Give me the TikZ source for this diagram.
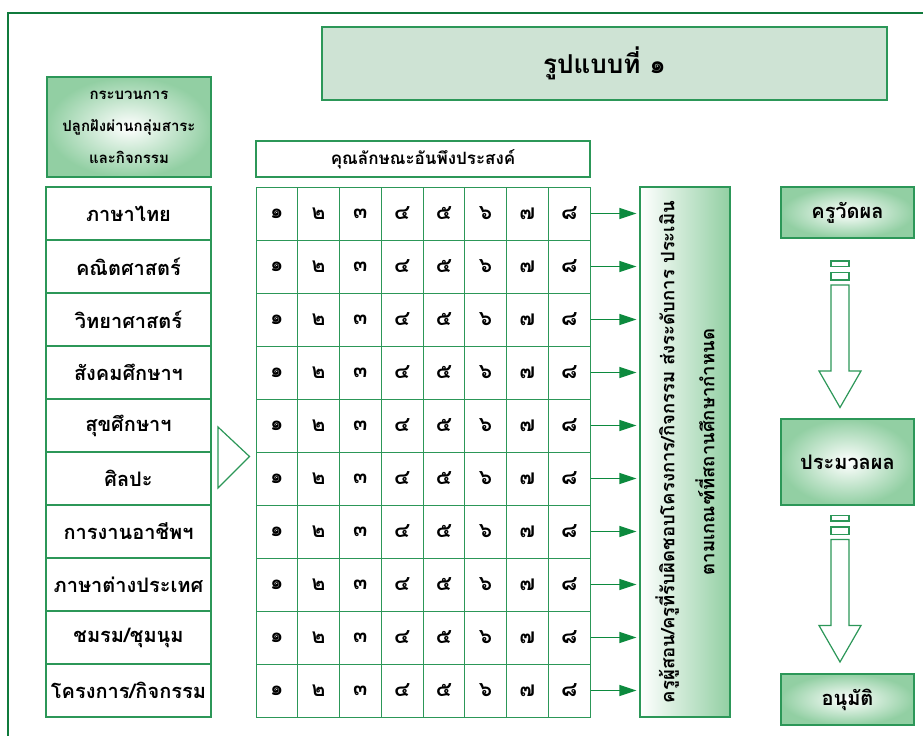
\documentclass[tikz,border=0pt]{standalone}
\usepackage{fontspec}
\setmainfont[Script=Thai]{Loma}
\usetikzlibrary{arrows.meta,calc}

\definecolor{framegreen}{HTML}{107A3C}
\definecolor{gline}{HTML}{2C9758}
\definecolor{titlefill}{HTML}{CEE3D4}
\definecolor{shadegreen}{HTML}{92CFA3}
\definecolor{arrowgreen}{HTML}{0C8A3E}

\begin{document}
\begin{tikzpicture}[x=1pt,y=-1pt,
  box/.style={draw=gline,line width=1.2pt,inner sep=0pt,align=center,font=\bfseries},
  greenbox/.style={box,inner color=white,outer color=shadegreen},
  subj/.style={box,minimum width=165pt,minimum height=53pt,font=\bfseries\fontsize{20}{23}\selectfont},
  cell/.style={box,line width=1pt,minimum width=41.75pt,minimum height=53pt,font=\bfseries\fontsize{21}{24}\selectfont},
  stagebox/.style={greenbox,minimum width=133pt,font=\bfseries\fontsize{20}{24}\selectfont},
  feed/.style={draw=arrowgreen,line width=1.2pt,-{Triangle[length=17pt,width=11pt]},shorten >=3pt},
  hollow/.style={draw=gline,line width=1.2pt,fill=white},
]
\useasboundingbox (0,0) rectangle (923,736);
\fill[white] (0,0) rectangle (923,736);

% outer frame
\draw[framegreen,line width=2.5pt] (923,13) -- (8,13) -- (8,736);

% title
\node[box,fill=titlefill,minimum width=565pt,minimum height=73pt,
      font=\bfseries\fontsize{26}{30}\selectfont] (title) at (604.5,63.5) {รูปแบบที่ ๑};

% column headers
\node[greenbox,minimum width=164pt,minimum height=100pt,
      font=\bfseries\fontsize{15}{32}\selectfont] (proc) at (129,127)
      {กระบวนการ\\ปลูกฝังผ่านกลุ่มสาระ\\และกิจกรรม};
\node[box,minimum width=334pt,minimum height=36pt,
      font=\bfseries\fontsize{17}{20}\selectfont] (traits) at (423,159) {คุณลักษณะอันพึงประสงค์};

% subject areas
\foreach \s [count=\r] in {ภาษาไทย,คณิตศาสตร์,วิทยาศาสตร์,สังคมศึกษาฯ,สุขศึกษาฯ,ศิลปะ,การงานอาชีพฯ,ภาษาต่างประเทศ,ชมรม/ชุมนุม,โครงการ/กิจกรรม}
  \node[subj] (s\r) at (128.5,{160.5+53*\r}) {\s};

% trait grid
\foreach \r in {1,...,10}
  \foreach \d [count=\c] in {๑,๒,๓,๔,๕,๖,๗,๘}
    \node[cell] (c\r-\c) at ({235.125+41.75*\c},{160.5+53*\r}) {\d};

% assessment column
\node[box,left color=white,right color=shadegreen,minimum width=90pt,minimum height=530pt] (assess) at (685,452) {};
\node[rotate=90,align=center,font=\bfseries\fontsize{18.5}{40}\selectfont] (assesstext) at (assess.center)
  {ครูผู้สอน/ครูที่รับผิดชอบโครงการ/กิจกรรม ส่งระดับการ ประเมิน\\ตามเกณฑ์ที่สถานศึกษากำหนด};

\foreach \r in {1,...,10}
  \draw[feed] (c\r-8.east) -- (c\r-8.east -| assess.west);

% link between subjects and grid
\draw[hollow] (218,427) -- (249.5,456.5) -- (218,488) -- cycle;

% evaluation stages
\node[stagebox,minimum height=51pt] (measure) at (847.5,212.5) {ครูวัดผล};
\node[stagebox,minimum height=86pt] (process) at (847.5,462) {ประมวลผล};
\node[stagebox,minimum height=51pt] (approve) at (847.5,699.5) {อนุมัติ};

% hollow down arrows between stages
\foreach \t in {261,515.5}{
  \draw[hollow] (831,\t) rectangle (849,\t+5.5);
  \draw[hollow] (831,\t+11.5) rectangle (849,\t+19);
  \draw[hollow] (831,\t+24) -- (831,\t+110) -- (819,\t+110) -- (840,\t+146.5)
        -- (861,\t+110) -- (849,\t+110) -- (849,\t+24) -- cycle;
}
\end{tikzpicture}
\end{document}
